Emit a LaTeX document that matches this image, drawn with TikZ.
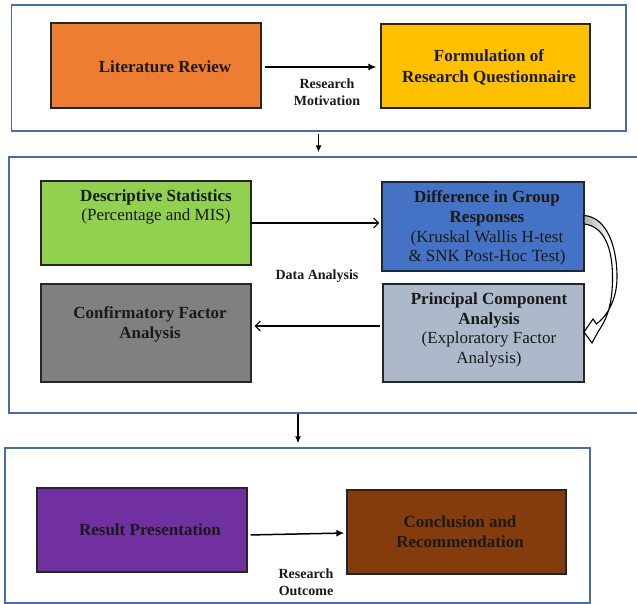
\documentclass[tikz,border=0pt]{standalone}
\usepackage{fontspec}
\setmainfont{Liberation Serif}
\usetikzlibrary{arrows.meta}
\definecolor{frameblue}{RGB}{74,108,172}
\definecolor{cOrange}{HTML}{ED7D31}
\definecolor{cYellow}{HTML}{FFC000}
\definecolor{cGreen}{HTML}{92D050}
\definecolor{cBlue}{HTML}{4472C4}
\definecolor{cGray}{HTML}{808080}
\definecolor{cSteel}{HTML}{ADB9CA}
\definecolor{cPurple}{HTML}{7030A0}
\definecolor{cBrown}{HTML}{843C0C}
\definecolor{txt}{HTML}{1A1A1A}
\begin{document}
\begin{tikzpicture}[x=1pt,y=-1pt,
  frame/.style={draw=frameblue,line width=1.4pt,inner sep=0pt},
  boxnode/.style={draw=black!85,line width=1.2pt,inner sep=0pt},
  boxtext/.style={align=center,font=\fontsize{17}{19.7}\selectfont,text=txt,inner sep=0pt},
  lbl/.style={align=center,font=\bfseries\fontsize{14}{17}\selectfont,text=txt,inner sep=0pt},
  flow/.style={line width=1.5pt,-{Latex[length=8pt,width=7pt]}},
  thinflow/.style={line width=1.1pt,-{Straight Barb[length=5pt,width=10pt]}},
  downflow/.style={line width=1.2pt,-{Latex[length=7pt,width=6pt]}}]
\clip (0,0) rectangle (637,604);
\fill[white] (0,0) rectangle (637,604);

% frames
\node[frame,minimum width=614.5pt,minimum height=126pt] (top) at (318.75,68) {};
\node[frame,minimum width=640pt,minimum height=256pt] (mid) at (329,285) {};
\node[frame,minimum width=585pt,minimum height=155pt] (bot) at (297.5,525.5) {};

% top row
\node[boxnode,fill=cOrange,minimum width=210pt,minimum height=85pt] (lit) at (156,65.5) {};
\node[boxtext,font=\bfseries\fontsize{17}{19.7}\selectfont] (litT) at (165,67) {Literature Review};
\node[boxnode,fill=cYellow,minimum width=209pt,minimum height=84pt] (form) at (485.5,66) {};
\node[boxtext,font=\bfseries\fontsize{17}{20.5}\selectfont] (formT) at (489,67.5) {Formulation of\\Research Questionnaire};
\draw[flow,shorten <=3pt,shorten >=4pt] (lit.east |- 0,67) -- (form.west |- 0,67);
\node[lbl] (motiv) at (327,92.5) {Research\\Motivation};

% down arrow 1
\coordinate (d1) at (318.5,0);
\draw[downflow,shorten <=2pt,shorten >=4pt] (top.south -| d1) -- (mid.north -| d1);

% middle rows
\node[boxnode,fill=cGreen,minimum width=210pt,minimum height=84pt] (desc) at (146,223) {};
\node[boxtext] (descT) at (156,207) {\textbf{Descriptive Statistics}\\(Percentage and MIS)};
\node[boxnode,fill=cBlue,minimum width=202pt,minimum height=89pt] (diff) at (483,226.5) {};
\node[boxtext] (diffT) at (487,228) {\textbf{Difference in Group}\\\textbf{Responses}\\(Kruskal Wallis H-test\\\& SNK Post-Hoc Test)};
\draw[thinflow,shorten <=-2pt,shorten >=2pt] (desc.east |- 0,223) -- (diff.west |- 0,223);
\node[lbl] (data) at (317,276) {Data Analysis};

\node[boxnode,fill=cGray,minimum width=210pt,minimum height=98pt] (conf) at (146,333) {};
\node[boxtext] (confT) at (150,324.5) {\textbf{Confirmatory Factor}\\\textbf{Analysis}};
\node[boxnode,fill=cSteel,minimum width=201pt,minimum height=98pt] (pca) at (483.5,333) {};
\node[boxtext] (pcaT) at (489,330) {\textbf{Principal Component}\\\textbf{Analysis}\\(Exploratory Factor\\Analysis)};
\draw[thinflow,shorten <=2pt,shorten >=3pt] (pca.west |- 0,326) -- (conf.east |- 0,326);

% curved block arrow
\def\curvedarrow{(584,215.5) .. controls (606,217) and (617,245) .. (617,277)
  .. controls (617,300) and (607,316) .. (596.5,324)
  -- (593,319) -- (584,332) -- (592,343) -- (598.5,331)
  .. controls (609,316) and (612.5,300) .. (612.5,277)
  .. controls (612.5,248) and (604,226) .. (584,224) -- cycle}
\begin{scope}
  \clip \curvedarrow;
  \fill[white] (580,210) rectangle (625,350);
  \shade[left color=black!30,right color=white] (584,210) rectangle (612,236);
\end{scope}
\draw[line width=1.1pt,black,line join=miter] \curvedarrow;

% down arrow 2
\coordinate (d2) at (298,0);
\draw[downflow,shorten >=4pt] (mid.south -| d2) -- (bot.north -| d2);

% bottom row
\node[boxnode,fill=cPurple,minimum width=210pt,minimum height=84pt] (res) at (142,530) {};
\node[boxtext,font=\bfseries\fontsize{17}{19.7}\selectfont] (resT) at (150,530) {Result Presentation};
\node[boxnode,fill=cBrown,minimum width=219pt,minimum height=84pt] (conc) at (456.5,532) {};
\node[boxtext,font=\bfseries\fontsize{17}{20}\selectfont] (concT) at (460,532) {Conclusion and\\Recommendation};
\draw[flow,shorten <=3pt,shorten >=2pt] (res.east |- 0,535) -- (conc.west |- 0,533);
\node[lbl] (outc) at (306,582.5) {Research\\Outcome};
\end{tikzpicture}
\end{document}
